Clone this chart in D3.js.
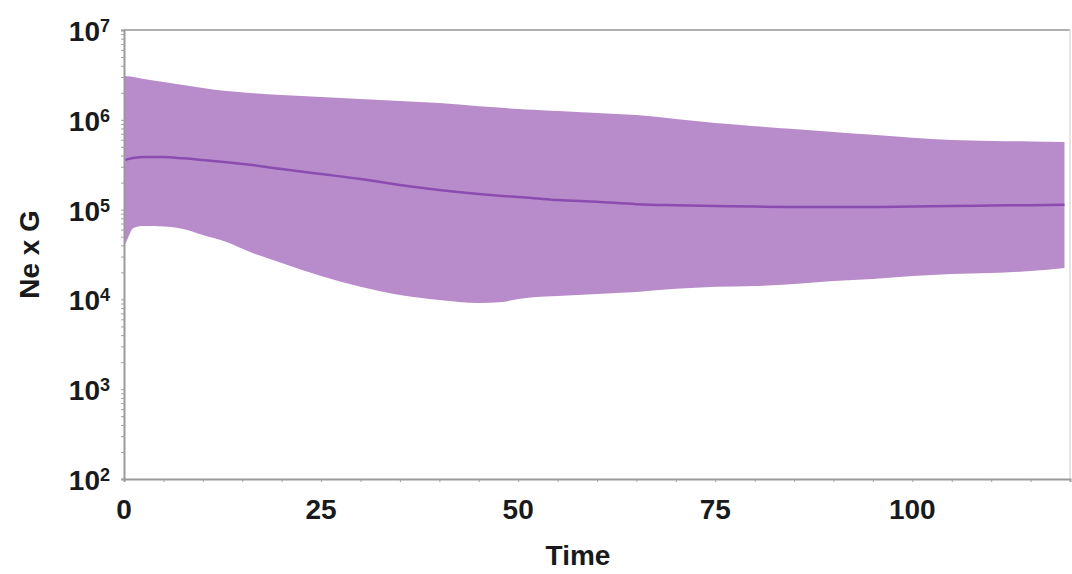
<!DOCTYPE html>
<html>
<head>
<meta charset="utf-8">
<script src="https://cdn.jsdelivr.net/npm/d3@7"></script>
<style>
  body { margin: 0; background: #fff; }
  svg text { font-family: "Liberation Sans", Arial, sans-serif; font-weight: bold; fill: #1a1a1a; }
</style>
</head>
<body>
<div id="chart"></div>
<script>
// values
const time = [0, 0.5, 1.2, 2.5, 5, 7.5, 10, 13, 16, 20, 25, 30, 35, 40, 45, 48, 50, 52, 55,
  60, 65, 70, 75, 80, 85, 90, 95, 100, 105, 110, 115, 119.3];
const upper = [3.08e6, 3.05e6, 3.0e6, 2.85e6, 2.64e6, 2.44e6, 2.26e6, 2.09e6, 1.99e6, 1.89e6,
  1.79e6, 1.71e6, 1.62e6, 1.54e6, 1.42e6, 1.36e6, 1.32e6, 1.29e6, 1.25e6, 1.19e6, 1.13e6,
  1.02e6, 9.2e5, 8.5e5, 7.9e5, 7.3e5, 6.8e5, 6.3e5, 5.95e5, 5.8e5, 5.75e5, 5.67e5];
const mean = [3.56e5, 3.65e5, 3.75e5, 3.85e5, 3.85e5, 3.72e5, 3.56e5, 3.36e5, 3.15e5, 2.83e5,
  2.49e5, 2.19e5, 1.88e5, 1.65e5, 1.49e5, 1.42e5, 1.38e5, 1.34e5, 1.28e5, 1.22e5, 1.15e5,
  1.12e5, 1.10e5, 1.08e5, 1.07e5, 1.07e5, 1.07e5, 1.08e5, 1.10e5, 1.11e5, 1.12e5, 1.13e5];
const lower = [3.83e4, 4.83e4, 6.24e4, 6.56e4, 6.5e4, 6.1e4, 5.21e4, 4.35e4, 3.37e4, 2.54e4,
  1.82e4, 1.38e4, 1.12e4, 9.85e3, 9.12e3, 9.36e3, 1.01e4, 1.06e4, 1.09e4, 1.15e4, 1.21e4,
  1.31e4, 1.38e4, 1.41e4, 1.48e4, 1.60e4, 1.69e4, 1.82e4, 1.92e4, 1.97e4, 2.07e4, 2.24e4];

const xTicks = [0, 25, 50, 75, 100];
const yExponents = [2, 3, 4, 5, 6, 7];

const width = 1072, height = 574;
const m = { left: 124, right: 1070, top: 30, bottom: 479 };

const svg = d3.select('#chart').append('svg')
  .attr('width', width)
  .attr('height', height);

const x = d3.scaleLinear().domain([0, 120]).range([m.left, m.right]);
const y = d3.scaleLog().domain([1e2, 1e7]).range([m.bottom, m.top]);

const rows = time.map((t, i) => ({ t: t, lo: lower[i], hi: upper[i], m: mean[i] }));

// frame (top + right)
svg.append('line')
  .attr('x1', m.left).attr('x2', m.right).attr('y1', m.top).attr('y2', m.top)
  .attr('stroke', '#b0b0b0').attr('stroke-width', 2);
svg.append('line')
  .attr('x1', m.right).attr('x2', m.right).attr('y1', m.top).attr('y2', m.bottom)
  .attr('stroke', '#dcdcdc').attr('stroke-width', 1.5);

// band
svg.append('path')
  .datum(rows)
  .attr('fill', '#b88bcb')
  .attr('d', d3.area()
    .x(d => x(d.t))
    .y0(d => y(d.lo))
    .y1(d => y(d.hi))
    .curve(d3.curveMonotoneX));

// mean line
svg.append('path')
  .datum(rows)
  .attr('fill', 'none')
  .attr('stroke', '#8b4caf')
  .attr('stroke-width', 2.5)
  .attr('d', d3.line()
    .x(d => x(d.t))
    .y(d => y(d.m))
    .curve(d3.curveMonotoneX));

// x axis
const xAxis = svg.append('g')
  .attr('transform', `translate(0,${m.bottom})`)
  .call(d3.axisBottom(x).tickValues(d3.range(0, 121, 5)).tickSize(3).tickFormat(''));
xAxis.select('.domain').attr('stroke', '#9a9a9a').attr('stroke-width', 2);
xAxis.selectAll('.tick line').attr('stroke', '#a0a0a0');

svg.append('g').selectAll('text')
  .data(xTicks)
  .join('text')
  .attr('x', d => x(d))
  .attr('y', 519)
  .attr('text-anchor', 'middle')
  .attr('font-size', 28)
  .text(d => d);

// y axis
const minorY = [];
yExponents.slice(0, -1).forEach(e => {
  for (let k = 1; k < 10; k++) minorY.push(k * Math.pow(10, e));
});
minorY.push(1e7);
const yAxis = svg.append('g')
  .attr('transform', `translate(${m.left},0)`)
  .call(d3.axisLeft(y).tickValues(minorY).tickSize(3).tickFormat(''));
yAxis.select('.domain').attr('stroke', '#9a9a9a').attr('stroke-width', 2);
yAxis.selectAll('.tick line').attr('stroke', '#a0a0a0');

const yLab = svg.append('g').selectAll('text')
  .data(yExponents)
  .join('text')
  .attr('x', 110)
  .attr('y', d => y(Math.pow(10, d)) + 11)
  .attr('text-anchor', 'end')
  .attr('font-size', 28);
yLab.append('tspan').text('10');
yLab.append('tspan')
  .attr('dy', -9)
  .attr('font-size', 18)
  .text(d => d);

// axis titles
svg.append('text')
  .attr('x', 578)
  .attr('y', 565)
  .attr('text-anchor', 'middle')
  .attr('font-size', 28)
  .text('Time');

svg.append('text')
  .attr('transform', `translate(39,${(m.top + m.bottom) / 2}) rotate(-90)`)
  .attr('text-anchor', 'middle')
  .attr('font-size', 28)
  .text('Ne x G');
</script>
</body>
</html>
